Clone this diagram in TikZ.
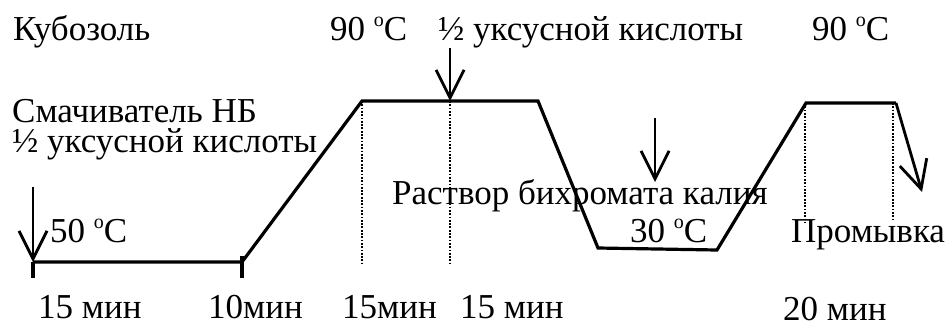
\documentclass[tikz,border=0pt]{standalone}
\usepackage{fontspec}
\setmainfont{Liberation Serif}
\usetikzlibrary{arrows.meta}
\newcommand{\dgC}{\raisebox{0.38em}{\fontsize{20}{20}\selectfont o}C}
\begin{document}
\begin{tikzpicture}[x=1pt,y=-1pt,
  lbl/.style={anchor=base west,inner sep=0pt,font=\fontsize{35}{38}\selectfont},
  curve/.style={line width=3.2pt,line join=miter},
  guide/.style={line width=2.8pt,dash pattern=on 1.8pt off 1.5pt},
  addarrow/.style={line width=2.8pt,-{Straight Barb[length=28pt,width=28pt,line width=2.8pt]}},
  tick/.style={line width=3.2pt}]
\useasboundingbox (0,0) rectangle (952,327);
% profile points
\coordinate (p0) at (33,262);
\coordinate (p1) at (242,262);
\coordinate (p2) at (362,101);
\coordinate (p3) at (538,101);
\coordinate (p4) at (598,248);
\coordinate (p5) at (717,250);
\coordinate (p6) at (806,103);
\coordinate (p7) at (896,103);
\coordinate (pe) at (922,192);
% guides
\coordinate (g1) at (362,263);
\coordinate (q2) at (450,101);
\coordinate (g2) at (450,263);
\coordinate (q3) at (805,103);
\coordinate (g3) at (805,222);
\coordinate (q4) at (893,103);
\coordinate (g4) at (893,220);
\draw[guide] (p2) -- (g1);
\draw[guide] (q2) -- (g2);
\draw[guide] (q3) -- (g3);
\draw[guide] (q4) -- (g4);
% profile
\draw[curve] (p0) -- (p1) -- (p2) -- (p3) -- (p4) -- (p5) -- (p6) -- (p7);
\draw[addarrow] (p7) -- (pe);
% ticks
\coordinate (t0) at (33,278);
\coordinate (t1a) at (242,256);
\coordinate (t1b) at (242,278);
\draw[tick] (p0) -- (t0);
\draw[tick] (t1a) -- (t1b);
% addition arrows
\coordinate (a0) at (33,187);
\coordinate (a2) at (450,48);
\coordinate (a3) at (655,118);
\coordinate (a3e) at (655,182);
\draw[addarrow] (a0) -- (p0);
\draw[addarrow] (a2) -- (q2);
\draw[addarrow] (a3) -- (a3e);
% labels
\node[lbl] (kub) at (13,40) {Кубозоль};
\node[lbl] (t90a) at (330,40) {90 \dgC};
\node[lbl] (acid1) at (438,40) {½ уксусной кислоты};
\node[lbl] (t90b) at (812,40) {90 \dgC};
\node[lbl,text depth=0pt] (wet) at (12,122) {Смачиватель НБ};
\node[lbl] (acid2) at (12,152) {½ уксусной кислоты};
\node[lbl] (t50) at (50,242) {50 \dgC};
\node[lbl] (bich) at (392,204) {Раствор бихромата калия};
\node[lbl] (t30) at (630,242) {30 \dgC};
\node[lbl] (wash) at (791,242) {Промывка};
\node[lbl] (m1) at (38,318) {15 мин};
\node[lbl] (m2) at (208,318) {10мин};
\node[lbl] (m3) at (342,318) {15мин};
\node[lbl] (m4) at (460,318) {15 мин};
\node[lbl] (m5) at (783,320) {20 мин};
\end{tikzpicture}
\end{document}
